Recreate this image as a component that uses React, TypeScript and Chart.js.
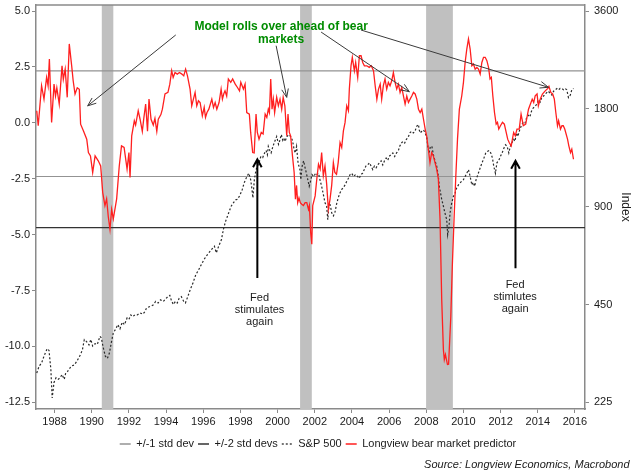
import React, { useEffect, useRef } from 'react';
import { Chart, registerables } from 'chart.js';

Chart.register(...registerables);

// ---------- data ----------
const predictorYears = [
  1987.04, 1987.12, 1987.3, 1987.43, 1987.57, 1987.65, 1987.72, 1987.84, 1987.97, 1988.05, 1988.12, 1988.25,
  1988.4, 1988.47, 1988.57, 1988.68, 1988.79, 1988.92, 1989.0, 1989.1, 1989.22, 1989.33, 1989.4, 1989.55,
  1989.73, 1989.82, 1989.93, 1990.05, 1990.18, 1990.35, 1990.48, 1990.59, 1990.71, 1990.8, 1990.89, 1990.98,
  1991.07, 1991.16, 1991.34, 1991.48, 1991.6, 1991.74, 1991.9, 1992.0, 1992.06, 1992.15, 1992.29, 1992.36,
  1992.5, 1992.6, 1992.72, 1992.8, 1992.9, 1993.0, 1993.08, 1993.19, 1993.31, 1993.4, 1993.5, 1993.58,
  1993.72, 1993.8, 1993.94, 1994.1, 1994.2, 1994.3, 1994.38, 1994.48, 1994.6, 1994.72, 1994.85, 1994.95,
  1995.05, 1995.15, 1995.29, 1995.38, 1995.47, 1995.56, 1995.65, 1995.74, 1995.83, 1995.95, 1996.05, 1996.12,
  1996.2, 1996.3, 1996.46, 1996.55, 1996.64, 1996.73, 1996.85, 1996.96, 1997.03, 1997.1, 1997.17, 1997.26,
  1997.35, 1997.48, 1997.58, 1997.72, 1997.84, 1997.95, 1998.02, 1998.16, 1998.25, 1998.34, 1998.48, 1998.55,
  1998.66, 1998.74, 1998.84, 1998.91, 1999.0, 1999.12, 1999.22, 1999.33, 1999.42, 1999.5, 1999.56, 1999.63,
  1999.7, 1999.77, 1999.84, 1999.95, 2000.04, 2000.13, 2000.22, 2000.3, 2000.39, 2000.49, 2000.56, 2000.63,
  2000.7, 2000.8, 2000.89, 2000.96, 2001.02, 2001.08, 2001.15, 2001.22, 2001.3, 2001.39, 2001.48, 2001.57,
  2001.66, 2001.71, 2001.78, 2001.84, 2001.89, 2002.02, 2002.11, 2002.2, 2002.29, 2002.37, 2002.46, 2002.55,
  2002.64, 2002.73, 2002.82, 2002.91, 2003.0, 2003.08, 2003.17, 2003.26, 2003.36, 2003.45, 2003.54, 2003.63,
  2003.72, 2003.81, 2003.86, 2003.95, 2004.02, 2004.13, 2004.2, 2004.31, 2004.4, 2004.49, 2004.58, 2004.67,
  2004.8, 2004.93, 2005.04, 2005.16, 2005.25, 2005.34, 2005.43, 2005.52, 2005.6, 2005.69, 2005.78, 2005.87,
  2005.96, 2006.05, 2006.14, 2006.23, 2006.32, 2006.41, 2006.5, 2006.59, 2006.68, 2006.77, 2006.86, 2006.95,
  2007.04, 2007.13, 2007.22, 2007.31, 2007.4, 2007.49, 2007.58, 2007.67, 2007.76, 2007.85, 2007.94, 2008.02,
  2008.11, 2008.2, 2008.29, 2008.38, 2008.47, 2008.56, 2008.65, 2008.74, 2008.83, 2008.92, 2008.97, 2009.03,
  2009.14, 2009.2, 2009.32, 2009.4, 2009.5, 2009.59, 2009.68, 2009.78, 2009.91, 2010.0, 2010.09, 2010.18,
  2010.27, 2010.36, 2010.45, 2010.54, 2010.63, 2010.72, 2010.81, 2010.9, 2010.99, 2011.08, 2011.17, 2011.26,
  2011.35, 2011.43, 2011.5, 2011.58, 2011.67, 2011.76, 2011.83, 2011.9, 2011.99, 2012.1, 2012.2, 2012.3,
  2012.38, 2012.46, 2012.57, 2012.7, 2012.79, 2012.88, 2013.0, 2013.1, 2013.22, 2013.35, 2013.5, 2013.7,
  2013.78, 2013.86, 2013.96, 2014.03, 2014.13, 2014.25, 2014.4, 2014.54, 2014.6, 2014.7, 2014.8, 2014.89,
  2014.97, 2015.06, 2015.12, 2015.22, 2015.3, 2015.37, 2015.45, 2015.6, 2015.67, 2015.76, 2015.83, 2015.92,
];
const predictorValues = [
  0.54, -0.13, 1.66, 1.06, 2.03, 1.66, 2.85, 0.02, 1.73, 1.2, 1.57, 0.84,
  2.55, 1.95, 2.4, 1.14, 3.53, 2.55, 1.88, 1.29, 1.57, 1.5, -0.06, -0.35,
  -0.73, -1.33, -1.48, -2.22, -1.48, -1.7, -1.93, -3.12, -3.7, -3.4, -4.2, -4.76,
  -3.87, -4.3, -3.4, -1.93, -1.03, -1.1, -2.07, -1.33, -2.44, -0.58, 0.09, -0.1,
  0.54, 0.16, -0.38, 0.2, 0.84, -0.38, 1.06, 0.16, -0.1, 0.2, -0.38, 0.16,
  0.37, 0.61, 1.29, 1.36, 1.73, 2.33, 2.03, 2.25, 2.18, 2.25, 2.18, 2.1,
  2.4, 2.1, 1.51, 0.76, 1.06, 1.36, 0.76, 0.99, 0.91, 0.31, 0.69, 0.24,
  0.46, 0.61, 1.06, 0.69, 0.91, 0.61, 0.91, 1.51, 1.06, 1.29, 1.43, 1.2,
  1.96, 1.81, 1.96, 1.73, 1.58, 1.43, 1.81, 1.51, 1.73, 0.46, 0.39, -0.43,
  -1.33, -1.35, 0.39, -0.43, -0.73, -0.43, -0.5, 0.39, 0.24, 0.61, 0.46, 1.96,
  0.61, 1.06, 0.46, 1.14, 0.76, 1.06, 0.61, 1.14, 0.76, -0.58, 0.39, -0.43,
  -0.58, -1.48, -2.22, -3.42, -2.8, -3.57, -3.35, -3.57, -3.64, -3.7, -3.57, -3.57,
  -3.87, -3.7, -4.91, -5.43, -3.7, -3.27, -2.5, -1.85, -2.07, -1.33, -2.37, -1.93,
  -2.74, -3.87, -3.42, -2.8, -1.78, -2.22, -2.3, -1.78, -0.88, -1.1, -0.36, 0.02,
  0.76, 0.54, 1.51, 2.55, 2.93, 2.33, 2.7, 2.03, 3.0, 3.0, 2.7, 2.55,
  2.55, 2.48, 2.55, 2.33, 1.66, 1.06, 1.51, 1.73, 1.06, 1.66, 1.96, 1.51,
  1.81, 1.66, 1.88, 2.25, 1.81, 1.51, 1.73, 1.36, 1.58, 1.2, 0.84, 1.2,
  0.91, 1.06, 1.2, 1.36, 1.29, 1.06, 0.61, 0.46, 0.61, 0.16, -0.28, -0.58,
  -1.18, -1.78, -1.33, -1.48, -1.78, -2.07, -2.52, -4.31, -7.9, -10.14, -10.59, -10.37,
  -10.81, -10.8, -8.65, -6.41, -4.17, -2.37, -0.73, 0.61, 1.21, 1.81, 2.7, 3.3,
  3.75, 3.3, 2.55, 2.63, 2.4, 2.48, 2.4, 2.18, 2.7, 2.93, 2.93, 2.78,
  2.48, 1.96, 2.03, 1.21, 0.46, -0.06, 0.02, -0.28, -0.13, 0.02, -0.06, -0.43,
  -0.73, -0.88, -1.03, -0.43, -0.58, -0.28, -0.28, 0.39, -0.13, -0.06, 0.61, 1.06,
  0.91, 1.21, 1.29, 0.76, 1.06, 1.29, 1.43, 1.54, 1.63, 1.36, 1.29, 1.06,
  0.46, -0.13, 0.09, -0.28, -0.13, -0.13, -0.28, -0.73, -1.03, -1.33, -1.18, -1.63,
];

const spxYears = [
  1987.04, 1987.17, 1987.3, 1987.43, 1987.6, 1987.7, 1987.8, 1987.87, 1987.97, 1988.08, 1988.2, 1988.3,
  1988.4, 1988.52, 1988.6, 1988.7, 1988.9, 1989.05, 1989.2, 1989.4, 1989.5, 1989.6, 1989.72, 1989.85,
  1989.95, 1990.05, 1990.18, 1990.3, 1990.44, 1990.52, 1990.6, 1990.73, 1990.84, 1990.95, 1991.05, 1991.16,
  1991.3, 1991.4, 1991.52, 1991.64, 1991.76, 1991.9, 1992.0, 1992.1, 1992.2, 1992.32, 1992.45, 1992.6,
  1992.75, 1992.85, 1992.95, 1993.1, 1993.3, 1993.44, 1993.57, 1993.7, 1993.85, 1994.0, 1994.1, 1994.2,
  1994.3, 1994.4, 1994.5, 1994.6, 1994.7, 1994.82, 1994.95, 1995.04, 1995.17, 1995.3, 1995.45, 1995.6,
  1995.75, 1995.9, 1996.05, 1996.17, 1996.3, 1996.45, 1996.6, 1996.7, 1996.83, 1996.98, 1997.08, 1997.2,
  1997.37, 1997.5, 1997.65, 1997.75, 1997.84, 1997.97, 1998.1, 1998.2, 1998.35, 1998.45, 1998.55, 1998.6,
  1998.67, 1998.75, 1998.84, 1999.0, 1999.1, 1999.2, 1999.3, 1999.38, 1999.45, 1999.5, 1999.58, 1999.65,
  1999.75, 1999.85, 1999.95, 2000.05, 2000.12, 2000.2, 2000.28, 2000.33, 2000.4, 2000.5, 2000.6, 2000.7,
  2000.8, 2000.89, 2000.95, 2001.02, 2001.1, 2001.2, 2001.25, 2001.32, 2001.4, 2001.48, 2001.55, 2001.7,
  2001.75, 2001.85, 2001.95, 2002.04, 2002.1, 2002.2, 2002.3, 2002.37, 2002.46, 2002.55, 2002.64, 2002.7,
  2002.75, 2002.8, 2002.85, 2002.91, 2003.0, 2003.08, 2003.17, 2003.26, 2003.35, 2003.45, 2003.54, 2003.63,
  2003.72, 2003.81, 2003.9, 2003.99, 2004.08, 2004.2, 2004.3, 2004.39, 2004.48, 2004.57, 2004.66, 2004.75,
  2004.85, 2004.94, 2005.03, 2005.12, 2005.21, 2005.3, 2005.39, 2005.48, 2005.57, 2005.66, 2005.75, 2005.84,
  2005.93, 2006.0, 2006.1, 2006.2, 2006.3, 2006.4, 2006.5, 2006.57, 2006.66, 2006.75, 2006.84, 2006.93,
  2007.02, 2007.12, 2007.2, 2007.3, 2007.39, 2007.48, 2007.58, 2007.62, 2007.67, 2007.76, 2007.85, 2007.94,
  2008.03, 2008.08, 2008.15, 2008.22, 2008.3, 2008.4, 2008.5, 2008.56, 2008.65, 2008.7, 2008.83, 2008.92,
  2009.0, 2009.1, 2009.15, 2009.22, 2009.28, 2009.37, 2009.46, 2009.55, 2009.64, 2009.73, 2009.82, 2009.9,
  2010.0, 2010.09, 2010.18, 2010.27, 2010.36, 2010.45, 2010.52, 2010.6, 2010.68, 2010.8, 2010.9, 2011.0,
  2011.1, 2011.2, 2011.29, 2011.38, 2011.47, 2011.56, 2011.63, 2011.72, 2011.8, 2011.9, 2011.99, 2012.08,
  2012.17, 2012.26, 2012.35, 2012.44, 2012.52, 2012.6, 2012.7, 2012.77, 2012.85, 2012.93, 2013.0, 2013.1,
  2013.2, 2013.3, 2013.4, 2013.48, 2013.57, 2013.66, 2013.75, 2013.85, 2013.94, 2014.04, 2014.13, 2014.22,
  2014.31, 2014.4, 2014.49, 2014.58, 2014.67, 2014.76, 2014.85, 2014.94, 2015.03, 2015.12, 2015.2, 2015.29,
  2015.38, 2015.47, 2015.56, 2015.65, 2015.75, 2015.83, 2015.92,
];
const spxValues = [
  277, 291, 297, 312, 329, 325, 284, 232, 259, 268, 265, 268,
  274, 265, 277, 280, 291, 293, 301, 316, 327, 351, 346, 338,
  351, 335, 341, 339, 359, 355, 335, 312, 307, 319, 343, 368,
  379, 390, 379, 397, 390, 409, 405, 418, 413, 418, 418, 424,
  420, 427, 439, 443, 448, 460, 455, 465, 460, 470, 476, 480,
  460, 450, 460, 455, 470, 476, 460, 455, 476, 500, 525, 556,
  575, 598, 620, 635, 649, 665, 680, 649, 680, 713, 765, 811,
  862, 903, 930, 945, 948, 975, 1017, 1065, 1115, 1140, 1090, 1040,
  958, 1090, 1170, 1228, 1285, 1275, 1317, 1340, 1300, 1380, 1340, 1317,
  1380, 1430, 1480, 1400, 1440, 1500, 1440, 1460, 1430, 1480, 1500, 1480,
  1440, 1348, 1317, 1380, 1228, 1170, 1090, 1200, 1245, 1185, 1140, 1040,
  1065, 1130, 1115, 1140, 1130, 1140, 1077, 1040, 982, 925, 903, 821,
  890, 925, 900, 862, 843, 862, 915, 958, 990, 1017, 1030, 1050,
  1077, 1100, 1130, 1140, 1115, 1130, 1115, 1100, 1130, 1140, 1170, 1200,
  1210, 1228, 1200, 1170, 1200, 1185, 1210, 1228, 1245, 1210, 1245, 1270,
  1250, 1285, 1300, 1317, 1285, 1317, 1340, 1380, 1413, 1430, 1413, 1450,
  1470, 1518, 1535, 1518, 1535, 1590, 1610, 1550, 1518, 1535, 1550, 1518,
  1465, 1380, 1317, 1380, 1380, 1285, 1228, 1200, 1115, 1040, 948, 903,
  862, 821, 738, 780, 862, 925, 968, 990, 1030, 1050, 1065, 1077,
  1090, 1115, 1140, 1170, 1115, 1050, 1070, 1040, 1090, 1140, 1185, 1228,
  1270, 1317, 1330, 1340, 1317, 1270, 1200, 1140, 1228, 1250, 1285, 1317,
  1360, 1395, 1380, 1317, 1380, 1413, 1450, 1430, 1518, 1480, 1535, 1590,
  1632, 1620, 1690, 1720, 1700, 1770, 1810, 1830, 1860, 1920, 1890, 1955,
  1970, 2000, 2020, 2040, 2000, 1985, 2040, 2060, 2080, 2060, 2080, 2080,
  2060, 2080, 2060, 1950, 1985, 2060, 2080,
];

const oneStdLevels = [2.32, -2.4];
const twoStdLevels = [-4.69];
const recessionStarts = [1990.54, 2001.21, 2007.99];
const recessionEnds = [1991.16, 2001.84, 2009.43];

const yearTicks = [1988, 1990, 1992, 1994, 1996, 1998, 2000, 2002, 2004, 2006, 2008, 2010, 2012, 2014, 2016];
const leftTicks = [5, 2.5, 0, -2.5, -5, -7.5, -10, -12.5];
const rightTicks = [225, 450, 900, 1800, 3600];
const seriesLabels = ['+/-1 std dev', '+/-2 std devs', 'S&P 500', 'Longview bear market predictor'];

const X_MIN = 1987.0;
const X_MAX = 2016.54;
const Y_MIN = -12.8;
const Y_MAX = 5.27;
const R_MIN = 214.6;
const R_MAX = 3757;

const FONT = "'Liberation Sans', Arial, sans-serif";

function levelSegments(levels: number[]) {
  const pts: { x: number; y: number | null }[] = [];
  levels.forEach((v, i) => {
    if (i > 0) pts.push({ x: X_MAX, y: null });
    pts.push({ x: X_MIN, y: v });
    pts.push({ x: X_MAX, y: v });
  });
  return pts;
}

function drawArrow(ctx: CanvasRenderingContext2D, x0: number, y0: number, x1: number, y1: number, head: number, ang: number) {
  const t = Math.atan2(y1 - y0, x1 - x0);
  ctx.beginPath();
  ctx.moveTo(x0, y0);
  ctx.lineTo(x1, y1);
  ctx.moveTo(x1 - head * Math.cos(t - ang), y1 - head * Math.sin(t - ang));
  ctx.lineTo(x1, y1);
  ctx.lineTo(x1 - head * Math.cos(t + ang), y1 - head * Math.sin(t + ang));
  ctx.stroke();
}

// annotation anchors in data units (year, left-axis value)
const thinArrows = [
  [1994.52, 3.93, 1989.78, 0.76],
  [1999.92, 3.45, 2000.49, 1.14],
  [2002.34, 4.06, 2007.09, 1.39],
  [2004.49, 4.15, 2014.57, 1.59],
];
const fedArrows = [
  [1998.91, -6.94, 1998.91, -1.63],
  [2012.8, -6.51, 2012.8, -1.7],
];
const fedNotes = [
  { x: 1999.03, y: -7.82, lines: ['Fed', 'stimulates', 'again'] },
  { x: 2012.78, y: -7.24, lines: ['Fed', 'stimlutes', 'again'] },
];
const headline = { x: 2000.19, y: 4.32, lines: ['Model rolls over ahead of bear', 'markets'] };

const decorPlugin = {
  id: 'decor',
  beforeDatasetsDraw(chart: any) {
    const { ctx, chartArea: a, scales } = chart;
    const x = scales.x;
    ctx.save();
    ctx.fillStyle = '#c0c0c0';
    recessionStarts.forEach((s, i) => {
      const x0 = x.getPixelForValue(s);
      const x1 = x.getPixelForValue(recessionEnds[i]);
      ctx.fillRect(x0, a.top, x1 - x0, a.bottom - a.top);
    });
    ctx.restore();
  },
  afterDatasetsDraw(chart: any) {
    const { ctx, chartArea: a, scales } = chart;
    const x = scales.x;
    const y = scales.y;
    ctx.save();
    ctx.strokeStyle = '#8a8a8a';
    ctx.lineWidth = 1.5;
    ctx.beginPath();
    ctx.moveTo(a.left, a.top);
    ctx.lineTo(a.right, a.top);
    ctx.stroke();

    ctx.strokeStyle = '#3a3a3a';
    ctx.lineWidth = 1;
    thinArrows.forEach(([xa, ya, xb, yb]) => {
      drawArrow(ctx, x.getPixelForValue(xa), y.getPixelForValue(ya), x.getPixelForValue(xb), y.getPixelForValue(yb), 9, 0.38);
    });

    ctx.strokeStyle = '#000';
    ctx.lineWidth = 2;
    fedArrows.forEach(([xa, ya, xb, yb]) => {
      drawArrow(ctx, x.getPixelForValue(xa), y.getPixelForValue(ya), x.getPixelForValue(xb), y.getPixelForValue(yb), 9, 0.5);
    });

    ctx.textAlign = 'center';
    ctx.textBaseline = 'middle';
    ctx.fillStyle = '#1a1a1a';
    ctx.font = `11px ${FONT}`;
    fedNotes.forEach((n) => {
      const px = x.getPixelForValue(n.x);
      const py = y.getPixelForValue(n.y);
      n.lines.forEach((t, i) => ctx.fillText(t, px, py + i * 12.2));
    });

    ctx.fillStyle = '#008c00';
    ctx.font = `bold 12px ${FONT}`;
    const hx = x.getPixelForValue(headline.x);
    const hy = y.getPixelForValue(headline.y);
    headline.lines.forEach((t, i) => ctx.fillText(t, hx, hy + i * 13));
    ctx.restore();
  },
  afterDraw(chart: any) {
    const { ctx } = chart;
    ctx.save();
    ctx.fillStyle = '#1a1a1a';
    ctx.font = `italic 11px ${FONT}`;
    ctx.textAlign = 'right';
    ctx.textBaseline = 'middle';
    ctx.fillText('Source: Longview Economics, Macrobond', 629.5, 465);
    ctx.restore();
  },
};

function zeroPad(scale: any) {
  scale.paddingTop = 0;
  scale.paddingBottom = 0;
  scale.paddingLeft = 0;
  scale.paddingRight = 0;
}

export default function App() {
  const canvasRef = useRef<HTMLCanvasElement | null>(null);

  useEffect(() => {
    document.body.style.margin = '0';
    const canvas = canvasRef.current;
    if (!canvas) return;
    Chart.defaults.font.family = FONT;
    Chart.defaults.color = '#1a1a1a';

    const predictorData = predictorYears.map((yr, i) => ({ x: yr, y: predictorValues[i] }));
    const spxData = spxYears.map((yr, i) => ({ x: yr, y: spxValues[i] }));
    const defaultLabels = (Chart as any).defaults.plugins.legend.labels.generateLabels;

    const chart = new Chart(canvas, {
      type: 'line',
      data: {
        datasets: [
          {
            label: seriesLabels[0],
            data: levelSegments(oneStdLevels),
            borderColor: '#939393',
            borderWidth: 1.2,
            pointRadius: 0,
            yAxisID: 'y',
            order: 2,
            spanGaps: false,
          },
          {
            label: seriesLabels[1],
            data: levelSegments(twoStdLevels),
            borderColor: '#333333',
            borderWidth: 1.3,
            pointRadius: 0,
            yAxisID: 'y',
            order: 3,
          },
          {
            label: seriesLabels[2],
            data: spxData,
            borderColor: '#2a2a2a',
            borderWidth: 1.2,
            borderDash: [2, 2],
            pointRadius: 0,
            yAxisID: 'y2',
            order: 1,
          },
          {
            label: seriesLabels[3],
            data: predictorData,
            borderColor: '#ff1f1f',
            borderWidth: 1.3,
            pointRadius: 0,
            yAxisID: 'y',
            order: 0,
          },
        ],
      },
      options: {
        animation: false,
        responsive: false,
        devicePixelRatio: 1,
        layout: { padding: { top: 5, left: 0, right: 0, bottom: 16.5 } },
        plugins: {
          tooltip: { enabled: false },
          legend: {
            position: 'bottom',
            labels: {
              usePointStyle: true,
              pointStyle: 'line',
              pointStyleWidth: 11,
              padding: 4,
              font: { size: 11 },
              color: '#1a1a1a',
              sort: (a: any, b: any) => a.datasetIndex - b.datasetIndex,
              generateLabels: (c: any) => {
                const items = defaultLabels(c);
                items.forEach((it: any) => {
                  const ds = c.data.datasets[it.datasetIndex];
                  it.lineDash = ds.borderDash || [];
                  it.strokeStyle = ds.borderColor;
                  it.fillStyle = ds.borderColor;
                  it.lineWidth = 1.3;
                });
                return items;
              },
            },
          },
        },
        scales: {
          x: {
            type: 'linear',
            min: X_MIN,
            max: X_MAX,
            afterBuildTicks: (scale: any) => {
              scale.ticks = yearTicks.map((v) => ({ value: v }));
            },
            afterFit: (scale: any) => {
              scale.height = 25.5;
              zeroPad(scale);
            },
            ticks: {
              autoSkip: false,
              maxRotation: 0,
              padding: 2,
              font: { size: 11 },
              color: '#1a1a1a',
              callback: (v: any) => String(v),
            },
            grid: { display: true, drawOnChartArea: false, drawTicks: true, tickLength: 4, color: '#8a8a8a' },
            border: { display: true, color: '#8a8a8a', width: 1.5 },
          },
          y: {
            type: 'linear',
            position: 'left',
            min: Y_MIN,
            max: Y_MAX,
            afterBuildTicks: (scale: any) => {
              scale.ticks = leftTicks.map((v) => ({ value: v }));
            },
            afterFit: (scale: any) => {
              scale.width = 36;
              zeroPad(scale);
            },
            ticks: {
              padding: 2,
              font: { size: 11 },
              color: '#1a1a1a',
              callback: (v: any) => Number(v).toFixed(1),
            },
            grid: { display: true, drawOnChartArea: false, drawTicks: true, tickLength: 4, color: '#8a8a8a' },
            border: { display: true, color: '#8a8a8a', width: 1.5 },
          },
          y2: {
            type: 'logarithmic',
            position: 'right',
            min: R_MIN,
            max: R_MAX,
            afterBuildTicks: (scale: any) => {
              scale.ticks = rightTicks.map((v) => ({ value: v }));
            },
            afterFit: (scale: any) => {
              scale.width = 51;
              zeroPad(scale);
            },
            ticks: {
              padding: 5,
              font: { size: 11 },
              color: '#1a1a1a',
              callback: (v: any) => String(v),
            },
            title: {
              display: true,
              text: 'Index',
              font: { size: 12 },
              color: '#1a1a1a',
              padding: { top: 3, bottom: 0 },
            },
            grid: { display: true, drawOnChartArea: false, drawTicks: true, tickLength: 4, color: '#8a8a8a' },
            border: { display: true, color: '#8a8a8a', width: 1.5 },
          },
        },
      },
      plugins: [decorPlugin],
    } as any);

    return () => chart.destroy();
  }, []);

  return (
    <div style={{ position: 'absolute', left: 0, top: 0, width: 636, height: 476, background: '#fff' }}>
      <canvas ref={canvasRef} width={636} height={476} />
    </div>
  );
}
